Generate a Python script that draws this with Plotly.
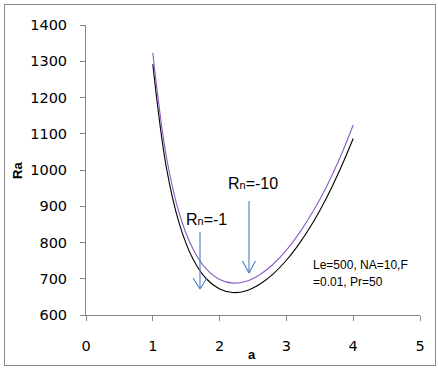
import plotly.graph_objects as go

a_vals = [1.0, 1.2, 1.4, 1.6, 1.8, 2.0, 2.2, 2.4, 2.6, 2.8, 3.0, 3.2, 3.4, 3.6, 3.8, 4.0]
ra_rn1 = [1292, 1010, 850, 755, 700, 672, 662, 667, 685, 713, 751, 799, 856, 923, 1000, 1087]
ra_rn10 = [1323, 1040, 878, 783, 727, 698, 688, 693, 711, 740, 779, 828, 886, 954, 1033, 1124]

x_ticks = [0, 1, 2, 3, 4, 5]
y_ticks = [600, 700, 800, 900, 1000, 1100, 1200, 1300, 1400]

W, H = 438, 370
L, R, T, B = 86, 18, 25, 55
PW, PH = W - L - R, H - T - B

def px_to_paper(px, py):
    return (px - L) / PW, (H - B - py) / PH

fig = go.Figure()
fig.add_trace(go.Scatter(x=a_vals, y=ra_rn1, mode="lines",
                         line=dict(color="#000000", width=1.1, shape="spline"),
                         showlegend=False, hoverinfo="skip"))
fig.add_trace(go.Scatter(x=a_vals, y=ra_rn10, mode="lines",
                         line=dict(color="#8a5cc4", width=1.1, shape="spline"),
                         showlegend=False, hoverinfo="skip"))

axis_col = "#868686"
font_tick = dict(family="DejaVu Sans", size=14.5, color="#000000")

shapes = []
# arrows (pixel geometry converted to paper)
arrow_col = "#4a7ebb"
def arrow(xpx, ytop, ytip, dx, dy):
    out = []
    pts = [((xpx, ytop), (xpx, ytip)),
           ((xpx - dx, ytip - dy), (xpx, ytip)),
           ((xpx + dx, ytip - dy), (xpx, ytip))]
    for (p0, p1) in pts:
        a0 = px_to_paper(*p0)
        a1 = px_to_paper(*p1)
        out.append(dict(type="line", xref="paper", yref="paper",
                        x0=a0[0], y0=a0[1], x1=a1[0], y1=a1[1],
                        line=dict(color=arrow_col, width=1.1)))
    return out

shapes += arrow(200, 232, 289, 7, 11)
shapes += arrow(249, 201, 273, 6.5, 12)

annotations = []
def text_at(px, py, txt, size, xanchor="left", yanchor="middle", angle=0, family="Liberation Sans"):
    xp, yp = px_to_paper(px, py)
    annotations.append(dict(xref="paper", yref="paper", x=xp, y=yp, text=txt,
                            showarrow=False, xanchor=xanchor, yanchor=yanchor, textangle=angle,
                            font=dict(family=family, size=size, color="#000000")))

text_at(184, 219, "R<span style='font-size:11px'>n</span>=-1", 16)
text_at(226, 183, "R<span style='font-size:11px'>n</span>=-10", 16)
text_at(311, 265, "Le=500, NA=10,F", 12)
text_at(311, 282, "=0.01, Pr=50", 12)
text_at(252, 354, "<b>a</b>", 13, xanchor="center")
text_at(17, 171, "<b>Ra</b>", 13, xanchor="center", angle=-90)

fig.update_layout(
    width=W, height=H,
    margin=dict(l=L, r=R, t=T, b=B, pad=0),
    paper_bgcolor="white", plot_bgcolor="white",
    xaxis=dict(range=[0, 5], tickvals=x_ticks, ticktext=[str(v) for v in x_ticks],
               showgrid=False, zeroline=False, showline=True, linecolor=axis_col, linewidth=1,
               ticks="outside", ticklen=5, tickcolor=axis_col, tickfont=font_tick,
               ticklabelstandoff=13, fixedrange=True),
    yaxis=dict(range=[600, 1400], tickvals=y_ticks, ticktext=[str(v) for v in y_ticks],
               showgrid=False, zeroline=False, showline=True, linecolor=axis_col, linewidth=1,
               ticks="outside", ticklen=5, tickcolor=axis_col, tickfont=font_tick,
               ticklabelstandoff=10, fixedrange=True),
    shapes=shapes, annotations=annotations,
)

post = (
    "document.body.style.margin='0';document.body.style.padding='0';"
    "var b=document.createElement('div');"
    "b.style.cssText='position:absolute;left:4px;top:4px;width:430px;height:360px;"
    "border:1px solid #888888;pointer-events:none;z-index:10;';"
    "document.body.appendChild(b);"
)
fig.write_html("out.html", config={"displayModeBar": False}, post_script=post)
